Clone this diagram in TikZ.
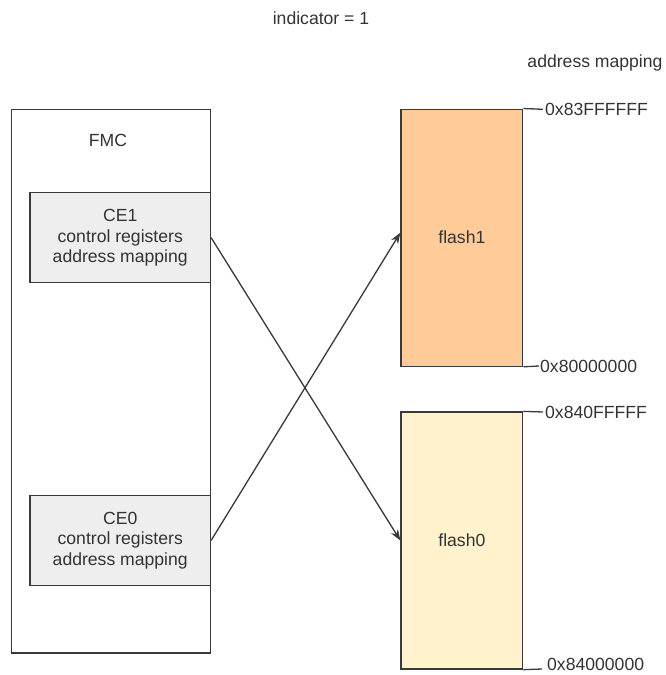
\documentclass[tikz,border=0pt]{standalone}
\usepackage{fontspec}
\setmainfont{Liberation Sans}
\usetikzlibrary{arrows.meta}
\definecolor{linegray}{HTML}{36393D}
\definecolor{txtgray}{HTML}{333333}
\definecolor{regfill}{HTML}{EEEEEE}
\definecolor{flashonefill}{HTML}{FFCC99}
\definecolor{flashzerofill}{HTML}{FFF2CC}
\tikzset{
  base/.style={draw=linegray, line width=1.3pt, inner sep=0pt, text=txtgray,
    font=\fontsize{17.6}{20.5}\selectfont, align=center},
  outerbox/.style={base, fill=white},
  regbox/.style={base, fill=regfill, minimum width=180.5pt, minimum height=90pt},
  flashbox/.style={base, minimum width=121.7pt, minimum height=257pt},
  label/.style={text=txtgray, inner sep=0pt, font=\fontsize{17.6}{20.5}\selectfont},
  tick/.style={draw=linegray, line width=1.3pt},
  link/.style={draw=linegray, line width=1.3pt, -{Stealth[length=11pt,width=8pt]}}
}
\begin{document}
\begin{tikzpicture}[x=1pt,y=-1pt]
\useasboundingbox (0,0) rectangle (666,675);

% headings
\node[label] (title) at (321,18) {indicator = 1};
\node[label] (maphead) at (595,63) {address mapping};

% controller block with its two chip-enable register sets
\node[outerbox, minimum width=199pt, minimum height=543.5pt] (fmc) at (111,381.25) {};
\node[label] (fmclabel) at (108,140) {FMC};
\node[regbox] (ce1) at (120.25,237.7) {CE1\\control registers\\address mapping};
\node[regbox] (ce0) at (120.25,540.4) {CE0\\control registers\\address mapping};

% flash devices
\node[flashbox, fill=flashonefill] (flash1) at (461.85,237.65) {flash1};
\node[flashbox, fill=flashzerofill] (flash0) at (461.85,540.5) {flash0};

% address ticks
\coordinate (t1) at (543,109.3);
\coordinate (t2) at (539,366);
\coordinate (t3) at (543,412);
\coordinate (t4) at (542,669);
\draw[tick] (flash1.north east) -- (t1);
\draw[tick] (flash1.south east) -- (t2);
\draw[tick] (flash0.north east) -- (t3);
\draw[tick] (flash0.south east) -- (t4);
\node[label, anchor=west] (a1) at ([xshift=2pt]t1) {0x83FFFFFF};
\node[label, anchor=west] (a2) at ([xshift=1pt]t2) {0x80000000};
\node[label, anchor=west] (a3) at ([xshift=2pt]t3) {0x840FFFFF};
\node[label, anchor=west] (a4) at ([xshift=5pt,yshift=5pt]t4) {0x84000000};

% crossed mapping
\draw[link] (ce1.east) -- (flash0.west);
\draw[link] (ce0.east) -- ([yshift=5pt]flash1.west);
\end{tikzpicture}
\end{document}
